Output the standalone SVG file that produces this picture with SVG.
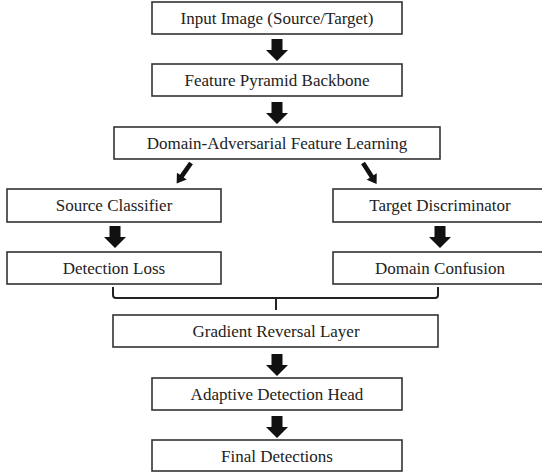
<svg xmlns="http://www.w3.org/2000/svg" xmlns:xlink="http://www.w3.org/1999/xlink" width="542" height="472" viewBox="0 0 542 472">
<style>
.box{fill:#fff;stroke:#333;stroke-width:1.6}
.lbl{font-family:"Liberation Serif","Times New Roman",serif;font-size:17px;fill:#222;text-anchor:middle}
.blk{fill:#111}
.br{fill:none;stroke:#222;stroke-width:2;stroke-linejoin:round}
</style>
<defs>
<path id="down" d="M-5.5,0 H5.5 V11 H11 L0,22 L-11,11 H-5.5 Z"/>
<path id="diag" d="M-2.3,0 H2.3 V16 H6 L0,25 L-6,16 H-2.3 Z"/>
</defs>
<rect width="542" height="472" fill="#fff"/>
<g id="connectors" class="blk">
<use xlink:href="#down" x="277" y="39"/>
<use xlink:href="#down" x="277" y="102"/>
<use xlink:href="#diag" transform="translate(191,163) rotate(35)"/>
<use xlink:href="#diag" transform="translate(363,163) rotate(-33)"/>
<use xlink:href="#down" x="115" y="226"/>
<use xlink:href="#down" x="440" y="226"/>
<path class="br" d="M113,287 V295 Q113,298 116,298 H435 Q438,298 438,295 V287 M276,298 V310"/>
<use xlink:href="#down" x="277" y="354"/>
<use xlink:href="#down" x="277" y="416"/>
</g>
<g id="n1"><rect class="box" x="152" y="2" width="250" height="32"/><text class="lbl" x="277" y="24">Input Image (Source/Target)</text></g>
<g id="n2"><rect class="box" x="152" y="64" width="250" height="32"/><text class="lbl" x="277" y="86">Feature Pyramid Backbone</text></g>
<g id="n3"><rect class="box" x="114" y="127" width="326" height="32"/><text class="lbl" x="277" y="149">Domain-Adversarial Feature Learning</text></g>
<g id="n4"><rect class="box" x="7" y="189" width="214" height="33"/><text class="lbl" x="114" y="211">Source Classifier</text></g>
<g id="n5"><rect class="box" x="333" y="189" width="212" height="33"/><text class="lbl" x="440" y="211">Target Discriminator</text></g>
<g id="n6"><rect class="box" x="7" y="252" width="214" height="32"/><text class="lbl" x="114" y="274">Detection Loss</text></g>
<g id="n7"><rect class="box" x="333" y="252" width="212" height="32"/><text class="lbl" x="440" y="274">Domain Confusion</text></g>
<g id="n8"><rect class="box" x="113" y="315" width="325" height="32"/><text class="lbl" x="276" y="337">Gradient Reversal Layer</text></g>
<g id="n9"><rect class="box" x="152" y="378" width="250" height="32"/><text class="lbl" x="277" y="400">Adaptive Detection Head</text></g>
<g id="n10"><rect class="box" x="152" y="440" width="250" height="31"/><text class="lbl" x="277" y="462">Final Detections</text></g>
</svg>
